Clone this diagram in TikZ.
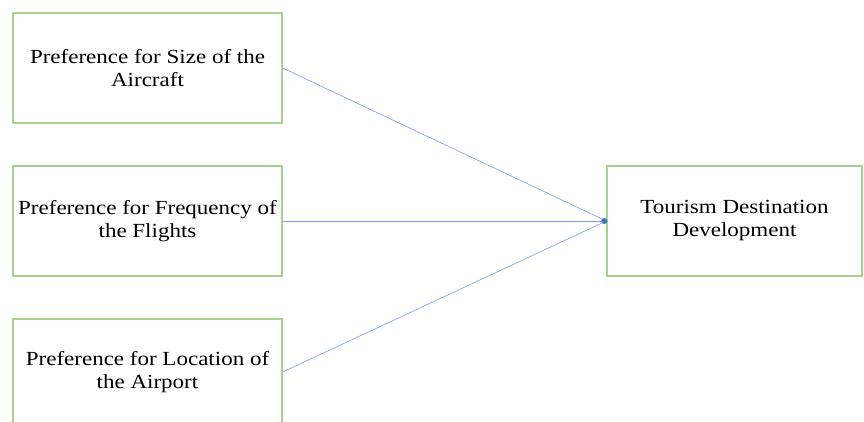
\documentclass[tikz,border=0pt]{standalone}
\usepackage{fontspec}
\setmainfont[FakeStretch=1.15]{Liberation Serif}
\usepackage{xcolor}
\usepackage{tikz}
\usetikzlibrary{arrows.meta}

\definecolor{boxgreen}{RGB}{169,208,142}
\definecolor{linkblue}{RGB}{125,155,225}
\definecolor{tipblue}{RGB}{68,114,196}

\tikzset{
  factor/.style={draw=boxgreen, line width=1.4pt, minimum width=269pt, minimum height=110pt,
    align=center, inner sep=0pt, font=\fontsize{20}{23}\selectfont},
  link/.style={draw=linkblue, line width=0.6pt}
}

\begin{document}
\begin{tikzpicture}[x=1pt, y=-1pt]
\useasboundingbox (0,0) rectangle (864,421);
\clip (0,0) rectangle (864,421);
\node[factor] (size) at (147.5,68) {Preference for Size of the\\Aircraft};
\node[factor] (freq) at (147.5,221) {Preference for Frequency of\\the Flights};
\node[factor, minimum height=106pt] (loc) at (147.5,372) {Preference for Location of\\the Airport};
\node[factor, minimum width=255pt] (tdd) at (734.5,221) {Tourism Destination\\Development};
% links into the outcome
\draw[link] (size.east) -- (tdd.west);
\draw[link] (freq.east) -- (tdd.west);
\draw[link] (loc.east) -- (tdd.west);
\fill[tipblue] ([xshift=-2pt]tdd.west) circle (3pt);
\end{tikzpicture}
\end{document}
